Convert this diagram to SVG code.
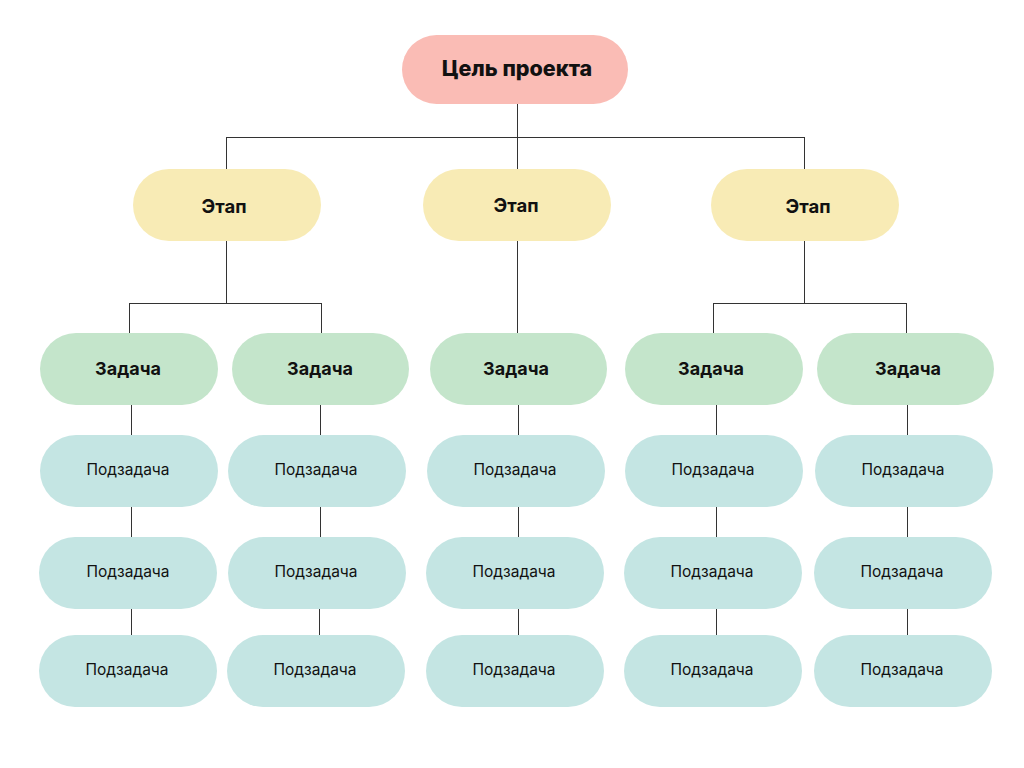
<svg xmlns="http://www.w3.org/2000/svg" width="1024" height="768" viewBox="0 0 1024 768">
<style>
.goal{fill:#FABCB5}
.stage{fill:#F8EBB5}
.task{fill:#C4E5CB}
.sub{fill:#C4E5E3}
text{font-family:Inter,"Noto Sans","Liberation Sans",sans-serif;fill:#111;text-anchor:middle}
.b{font-weight:700}
.t20{font-size:21.5px;font-weight:800}
.t18{font-size:18.5px}
.t17{font-size:18px}
.t15{font-size:15.5px;font-weight:400}
.c{fill:none;stroke:#333;stroke-width:1}
</style>
<rect width="1024" height="768" fill="#fff"/>
<g id="connectors" class="c">
<path d="M517.5 104V169M226.5 137.5H804.5M226.5 137V169M804.5 137V169"/>
<path d="M226.5 241V303.5M129.5 303.5H321.5M129.5 303V333M321.5 303V333"/>
<path d="M517.5 241V333"/>
<path d="M804.5 241V303.5M713.5 303.5H906.5M713.5 303V333M906.5 303V333"/>
<path d="M131.5 405V435M131.5 507V537M131.5 609V635"/>
<path d="M320.5 405V435M320.5 507V537M319.5 609V635"/>
<path d="M518.5 405V435M518.5 507V537M518.5 609V635"/>
<path d="M716.5 405V435M716.5 507V537M716.5 609V635"/>
<path d="M907.5 405V435M907.5 507V537M907.5 609V635"/>
</g>
<g id="goal"><rect class="goal" x="402" y="35" width="226" height="69" rx="34.5"/><text class="b t20" x="517" y="76">Цель проекта</text></g>
<g id="stage1"><rect class="stage" x="133" y="169" width="188" height="72" rx="36"/><text class="b t18" x="224" y="213">Этап</text></g>
<g id="stage2"><rect class="stage" x="423" y="169" width="188" height="72" rx="36"/><text class="b t18" x="516" y="212">Этап</text></g>
<g id="stage3"><rect class="stage" x="711" y="169" width="188" height="72" rx="36"/><text class="b t18" x="808" y="213">Этап</text></g>
<g id="task1"><rect class="task" x="40" y="333" width="178" height="72" rx="36"/><text class="b t17" x="128" y="375">Задача</text></g>
<g id="task2"><rect class="task" x="232" y="333" width="177" height="72" rx="36"/><text class="b t17" x="320" y="375">Задача</text></g>
<g id="task3"><rect class="task" x="430" y="333" width="177" height="72" rx="36"/><text class="b t17" x="516" y="375">Задача</text></g>
<g id="task4"><rect class="task" x="625" y="333" width="178" height="72" rx="36"/><text class="b t17" x="711" y="375">Задача</text></g>
<g id="task5"><rect class="task" x="817" y="333" width="177" height="72" rx="36"/><text class="b t17" x="908" y="375">Задача</text></g>
<g id="sub1-1"><rect class="sub" x="40" y="435" width="178" height="72" rx="36"/><text class="t15" x="128" y="475">Подзадача</text></g>
<g id="sub1-2"><rect class="sub" x="39" y="537" width="178" height="72" rx="36"/><text class="t15" x="128" y="577">Подзадача</text></g>
<g id="sub1-3"><rect class="sub" x="39" y="635" width="178" height="72" rx="36"/><text class="t15" x="127" y="675">Подзадача</text></g>
<g id="sub2-1"><rect class="sub" x="228" y="435" width="178" height="72" rx="36"/><text class="t15" x="316" y="475">Подзадача</text></g>
<g id="sub2-2"><rect class="sub" x="228" y="537" width="178" height="72" rx="36"/><text class="t15" x="316" y="577">Подзадача</text></g>
<g id="sub2-3"><rect class="sub" x="227" y="635" width="178" height="72" rx="36"/><text class="t15" x="315" y="675">Подзадача</text></g>
<g id="sub3-1"><rect class="sub" x="427" y="435" width="178" height="72" rx="36"/><text class="t15" x="515" y="475">Подзадача</text></g>
<g id="sub3-2"><rect class="sub" x="426" y="537" width="178" height="72" rx="36"/><text class="t15" x="514" y="577">Подзадача</text></g>
<g id="sub3-3"><rect class="sub" x="426" y="635" width="178" height="72" rx="36"/><text class="t15" x="514" y="675">Подзадача</text></g>
<g id="sub4-1"><rect class="sub" x="625" y="435" width="178" height="72" rx="36"/><text class="t15" x="713" y="475">Подзадача</text></g>
<g id="sub4-2"><rect class="sub" x="624" y="537" width="178" height="72" rx="36"/><text class="t15" x="712" y="577">Подзадача</text></g>
<g id="sub4-3"><rect class="sub" x="624" y="635" width="178" height="72" rx="36"/><text class="t15" x="712" y="675">Подзадача</text></g>
<g id="sub5-1"><rect class="sub" x="815" y="435" width="178" height="72" rx="36"/><text class="t15" x="903" y="475">Подзадача</text></g>
<g id="sub5-2"><rect class="sub" x="814" y="537" width="178" height="72" rx="36"/><text class="t15" x="902" y="577">Подзадача</text></g>
<g id="sub5-3"><rect class="sub" x="814" y="635" width="178" height="72" rx="36"/><text class="t15" x="902" y="675">Подзадача</text></g>
</svg>
